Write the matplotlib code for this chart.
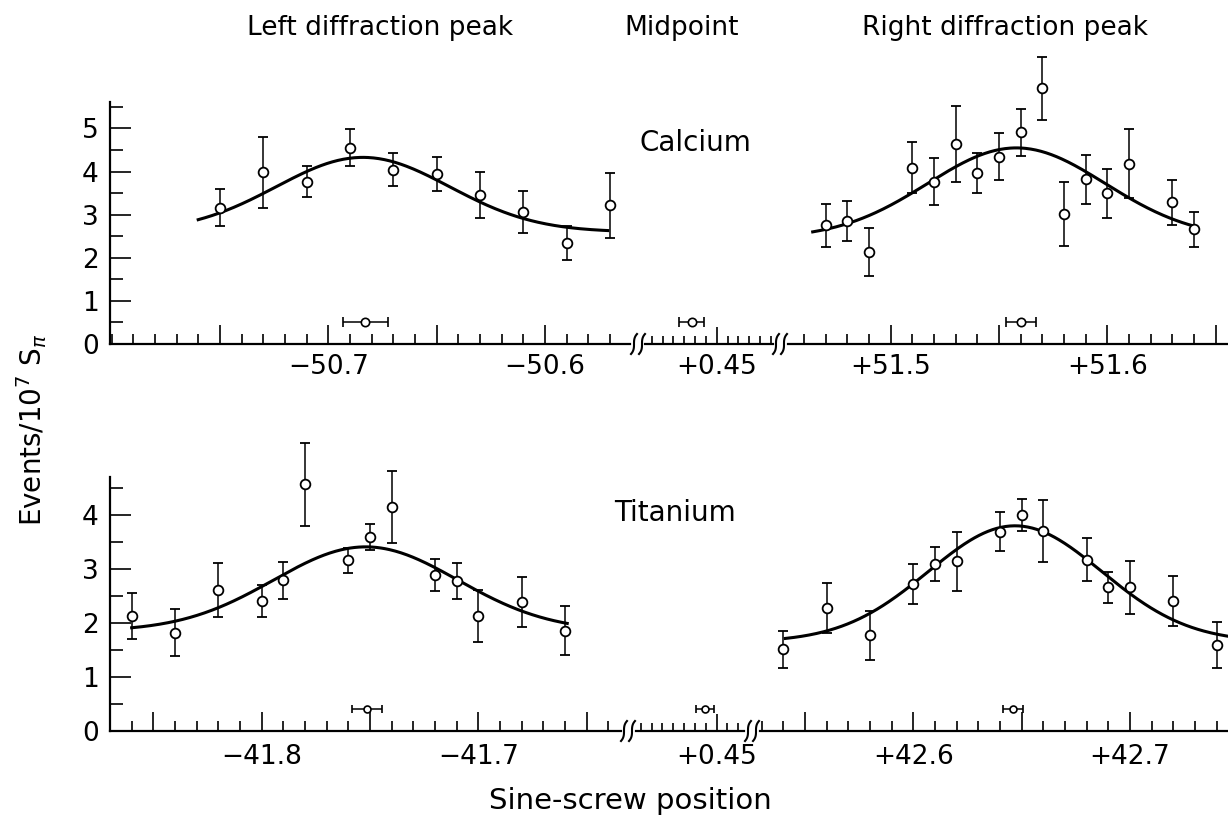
import matplotlib
matplotlib.use('Agg')
import matplotlib.pyplot as plt
from matplotlib.lines import Line2D
from matplotlib.ticker import MultipleLocator
import numpy as np

W, H = 1228, 822
XSCALE = 2167.0       # pixels per unit of sine-screw position
YSCALE_CA = 43.1      # pixels per unit of events (calcium row)
YSCALE_TI = 54.0      # pixels per unit of events (titanium row)

# Calcium, left diffraction peak
ca_left_x = [-50.75, -50.73, -50.71, -50.69, -50.67, -50.65, -50.63, -50.61, -50.59, -50.57]
ca_left_y = [3.16, 3.98, 3.77, 4.55, 4.04, 3.94, 3.46, 3.06, 2.35, 3.22]
ca_left_err = [0.43, 0.82, 0.35, 0.43, 0.38, 0.39, 0.53, 0.48, 0.39, 0.75]

# Calcium, right diffraction peak
ca_right_x = [51.47, 51.48, 51.49, 51.51, 51.52, 51.53, 51.54, 51.55,
              51.56, 51.57, 51.58, 51.59, 51.60, 51.61, 51.63, 51.64]
ca_right_y = [2.75, 2.85, 2.13, 4.09, 3.77, 4.65, 3.97, 4.35,
              4.91, 5.93, 3.02, 3.82, 3.50, 4.18, 3.29, 2.66]
ca_right_err = [0.49, 0.46, 0.55, 0.59, 0.55, 0.88, 0.46, 0.55,
                0.55, 0.74, 0.75, 0.57, 0.57, 0.80, 0.52, 0.40]

# Titanium, left diffraction peak
ti_left_x = [-41.86, -41.84, -41.82, -41.80, -41.79, -41.78, -41.76,
             -41.75, -41.74, -41.72, -41.71, -41.70, -41.68, -41.66]
ti_left_y = [2.13, 1.82, 2.61, 2.41, 2.79, 4.57, 3.16, 3.59, 4.15, 2.89, 2.78, 2.13, 2.39, 1.86]
ti_left_err = [0.43, 0.44, 0.50, 0.30, 0.34, 0.77, 0.23, 0.24, 0.66, 0.30, 0.33, 0.49, 0.46, 0.45]

# Titanium, right diffraction peak
ti_right_x = [42.54, 42.56, 42.58, 42.60, 42.61, 42.62, 42.64,
              42.65, 42.66, 42.68, 42.69, 42.70, 42.72, 42.74]
ti_right_y = [1.51, 2.28, 1.77, 2.73, 3.09, 3.14, 3.69, 4.00, 3.70, 3.17, 2.66, 2.66, 2.41, 1.59]
ti_right_err = [0.35, 0.47, 0.46, 0.37, 0.31, 0.54, 0.36, 0.30, 0.57, 0.40, 0.29, 0.49, 0.46, 0.42]

# fitted gaussians: background, amplitude, centre, sigma, x from, x to
ca_left_fit = [2.60, 1.73, -50.684, 0.040, -50.76, -50.571]
ca_right_fit = [2.45, 2.10, 51.558, 0.041, 51.464, 51.641]
ti_left_fit = [1.85, 1.56, -41.752, 0.0425, -41.86, -41.659]
ti_right_fit = [1.65, 2.15, 42.647, 0.040, 42.541, 42.745]

# fitted peak positions (left, midpoint, right) with their errors
ca_peaks = [-50.683, 0.4385, 51.560]
ca_peak_err = [0.0104, 0.0058, 0.007]
ti_peaks = [-41.7515, 0.4446, 42.646]
ti_peak_err = [0.007, 0.0042, 0.0045]


def fx(px):
    return px / W


def fy(py):
    return 1 - py / H


fig = plt.figure(figsize=(W / 100, H / 100), dpi=100)


def make_panel(left_px, base_py, xlim, ytop, yscale, yaxis=False):
    width = (xlim[1] - xlim[0]) * XSCALE
    height = ytop * yscale
    ax = fig.add_axes([fx(left_px), fy(base_py), width / W, height / H])
    ax.set_xlim(xlim)
    ax.set_ylim(0, ytop)
    ax.patch.set_alpha(0)
    for s in ['top', 'right']:
        ax.spines[s].set_visible(False)
    ax.spines['bottom'].set_linewidth(1.6)
    ax.tick_params(axis='x', which='both', direction='in', width=1.2, labelsize=19, pad=7)
    ax.tick_params(axis='x', which='major', length=14)
    ax.tick_params(axis='x', which='minor', length=7)
    if yaxis:
        ax.spines['left'].set_linewidth(1.6)
        ax.tick_params(axis='y', which='both', direction='in', width=1.2, labelsize=19, pad=8)
        ax.tick_params(axis='y', which='major', length=15)
        ax.tick_params(axis='y', which='minor', length=9)
    else:
        ax.spines['left'].set_visible(False)
        ax.set_yticks([])
    return ax


def draw_data(ax, x, y, err, fit):
    b, a, c, s, x0, x1 = fit
    xs = np.linspace(x0, x1, 300)
    ax.plot(xs, b + a * np.exp(-(xs - c) ** 2 / (2 * s ** 2)), color='black', lw=2.2,
            zorder=2, clip_on=False)
    ax.errorbar(x, y, yerr=err, fmt='o', ms=7, mfc='white', mec='black', mew=1.3,
                ecolor='black', elinewidth=1.1, capsize=3.6, capthick=1.1, zorder=3,
                clip_on=False)


def draw_peak(ax, x, err, level, ms, cap):
    ax.errorbar([x], [level], xerr=[err], fmt='o', ms=ms, mfc='white', mec='black',
                mew=1.2, ecolor='black', elinewidth=1.1, capsize=cap, capthick=1.1,
                zorder=3, clip_on=False)


def draw_break(xpx, ypx):
    t = np.linspace(-1, 1, 40)
    for dx in (0, 8):
        xs = xpx + dx + 3 * t ** 3
        ys = ypx - 10 * t
        fig.add_artist(Line2D(fx(xs), fy(ys), transform=fig.transFigure,
                              color='black', lw=1.5))


def side_ticks(ax, long_ticks, labels):
    ax.set_xticks(long_ticks)
    ax.set_xticklabels(labels)
    ax.xaxis.set_minor_locator(MultipleLocator(0.01))


# ---- Calcium row ----
ca_base = 344
ca_top = 6.95
ax = make_panel(110, ca_base, (-50.8007, -50.5608), ca_top, YSCALE_CA, yaxis=True)
ax.spines['left'].set_bounds(0, 5.62)
ax.set_yticks([0, 1, 2, 3, 4, 5])
ax.set_yticks(np.arange(0.5, 5.6, 1.0), minor=True)
side_ticks(ax, [-50.75, -50.7, -50.65, -50.6], ['', '\u221250.7', '', '\u221250.6'])
draw_data(ax, ca_left_x, ca_left_y, ca_left_err, ca_left_fit)
draw_peak(ax, ca_peaks[0], ca_peak_err[0], 0.5, 6, 3.5)

ax = make_panel(645, ca_base, (0.4169, 0.4760), ca_top, YSCALE_CA)
ax.set_xticks([0.45])
ax.set_xticklabels(['+0.45'])
ax.xaxis.set_minor_locator(MultipleLocator(0.005))
ax.tick_params(axis='x', which='major', length=12)
ax.tick_params(axis='x', which='minor', length=6)
draw_peak(ax, ca_peaks[1], ca_peak_err[1], 0.5, 6, 3.5)

ax = make_panel(788, ca_base, (51.4526, 51.6557), ca_top, YSCALE_CA)
side_ticks(ax, [51.5, 51.55, 51.6, 51.65], ['+51.5', '', '+51.6', ''])
draw_data(ax, ca_right_x, ca_right_y, ca_right_err, ca_right_fit)
draw_peak(ax, ca_peaks[2], ca_peak_err[2], 0.5, 6, 3.5)

draw_break(634, ca_base)
draw_break(776, ca_base)

# ---- Titanium row ----
ti_base = 731
ti_top = 5.6
ax = make_panel(110, ti_base, (-41.8700, -41.6342), ti_top, YSCALE_TI, yaxis=True)
ax.spines['left'].set_bounds(0, 4.70)
ax.set_yticks([0, 1, 2, 3, 4])
ax.set_yticks(np.arange(0.5, 4.6, 1.0), minor=True)
side_ticks(ax, [-41.85, -41.8, -41.75, -41.7, -41.65], ['', '\u221241.8', '', '\u221241.7', ''])
ax.tick_params(axis='x', pad=9)
draw_data(ax, ti_left_x, ti_left_y, ti_left_err, ti_left_fit)
draw_peak(ax, ti_peaks[0], ti_peak_err[0], 0.4, 5, 3)

ax = make_panel(636, ti_base, (0.4128, 0.4626), ti_top, YSCALE_TI)
ax.set_xticks([0.45])
ax.set_xticklabels(['+0.45'])
ax.xaxis.set_minor_locator(MultipleLocator(0.005))
ax.tick_params(axis='x', which='major', length=12, pad=9)
ax.tick_params(axis='x', which='minor', length=6)
draw_peak(ax, ti_peaks[1], ti_peak_err[1], 0.4, 5, 3)

ax = make_panel(760, ti_base, (42.5293, 42.7452), ti_top, YSCALE_TI)
side_ticks(ax, [42.55, 42.6, 42.65, 42.7], ['', '+42.6', '', '+42.7'])
ax.tick_params(axis='x', pad=9)
draw_data(ax, ti_right_x, ti_right_y, ti_right_err, ti_right_fit)
draw_peak(ax, ti_peaks[2], ti_peak_err[2], 0.4, 5, 3)

draw_break(624, ti_base)
draw_break(748, ti_base)

# ---- labels ----
fig.text(fx(380), fy(28), 'Left diffraction peak', fontsize=19, ha='center', va='center')
fig.text(fx(682), fy(28), 'Midpoint', fontsize=19, ha='center', va='center')
fig.text(fx(1005), fy(28), 'Right diffraction peak', fontsize=19, ha='center', va='center')
fig.text(fx(695), fy(143), 'Calcium', fontsize=20, ha='center', va='center')
fig.text(fx(675), fy(513), 'Titanium', fontsize=20, ha='center', va='center')
fig.text(fx(32), fy(430), r'Events/10$^7$ S$_\pi$', fontsize=20, rotation=90,
         ha='center', va='center')
fig.text(fx(630), fy(801), 'Sine-screw position', fontsize=21, ha='center', va='center')

fig.savefig('out.png', dpi=100, facecolor='white')
